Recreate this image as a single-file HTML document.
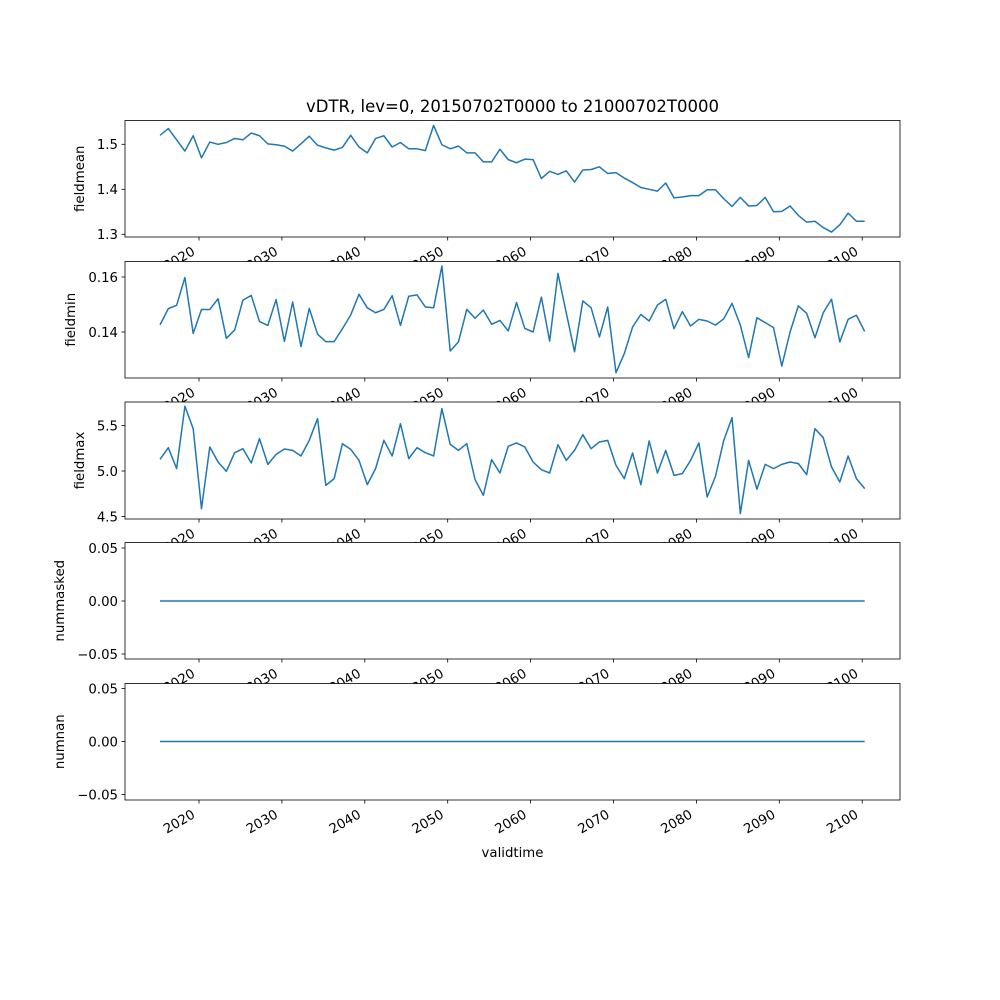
<!DOCTYPE html>
<html><head><meta charset="utf-8"><style>
html,body{margin:0;padding:0;background:#fff;}
svg{display:block;font-family:"DejaVu Sans","Liberation Sans",sans-serif;}
</style></head><body>
<svg id="chart" width="1000" height="1000" viewBox="0 0 1000 1000" xmlns="http://www.w3.org/2000/svg">
<rect width="1000" height="1000" fill="#fff"/>
<text x="512.5" y="112" text-anchor="middle" font-size="16.5" fill="#000">vDTR, lev=0, 20150702T0000 to 21000702T0000</text>
<text x="512.5" y="857" text-anchor="middle" font-size="13.3" fill="#000">validtime</text>
</svg>
<script>
const years = [];
for (let i = 0; i < 86; i++) years.push(2015.3 + i);
const xTicks = [2020, 2030, 2040, 2050, 2060, 2070, 2080, 2090, 2100];
const fieldmean = [1.520,1.535,1.510,1.485,1.519,1.470,1.505,1.500,1.504,1.513,1.510,1.525,1.519,1.501,1.499,1.496,1.485,1.501,1.518,1.498,1.492,1.487,1.493,1.520,1.494,1.481,1.513,1.519,1.494,1.504,1.490,1.490,1.486,1.542,1.499,1.490,1.496,1.481,1.481,1.461,1.461,1.489,1.466,
1.459,1.467,1.466,1.424,1.440,1.433,1.441,1.416,1.443,1.444,1.450,1.435,1.437,1.425,1.415,1.404,1.400,1.396,1.414,1.381,1.383,1.386,1.386,1.399,1.399,1.379,1.362,1.382,1.363,1.364,1.382,1.350,1.351,1.363,1.342,1.327,1.329,1.315,1.305,1.321,1.347,1.329,1.329];
const fieldmin = [0.1426,0.1485,0.1497,0.1598,0.1395,0.1482,0.1482,0.1521,0.1377,0.1407,0.1516,0.1533,0.1438,0.1424,0.1518,0.1366,0.1509,0.1347,0.1486,0.1392,0.1365,0.1365,0.1412,0.1462,0.1537,0.1488,0.1470,0.1482,0.1532,0.1424,0.1530,0.1535,0.1491,0.1488,0.1640,0.1331,0.1364,0.1482,0.1450,0.1480,0.1428,0.1442,0.1404,
0.1507,0.1413,0.1400,0.1527,0.1367,0.1613,0.1470,0.1328,0.1513,0.1488,0.1382,0.1491,0.1252,0.1321,0.1418,0.1464,0.1440,0.1498,0.1519,0.1412,0.1474,0.1422,0.1446,0.1440,0.1425,0.1448,0.1504,0.1425,0.1307,0.1452,0.1434,0.1416,0.1276,0.1400,0.1495,0.1468,0.1379,0.1470,0.1519,0.1364,0.1446,0.1461,0.1402];
const fieldmax = [5.128,5.256,5.026,5.711,5.465,4.586,5.264,5.099,4.996,5.201,5.245,5.088,5.355,5.073,5.183,5.242,5.227,5.165,5.337,5.575,4.842,4.916,5.300,5.238,5.117,4.850,5.026,5.337,5.165,5.520,5.136,5.256,5.201,5.165,5.685,5.293,5.227,5.300,4.905,4.733,5.125,4.978,5.271,
5.308,5.264,5.099,5.015,4.978,5.289,5.117,5.227,5.399,5.245,5.319,5.337,5.062,4.916,5.198,4.850,5.330,4.978,5.227,4.952,4.971,5.117,5.308,4.714,4.941,5.337,5.586,4.531,5.117,4.799,5.073,5.026,5.073,5.099,5.081,4.960,5.465,5.366,5.044,4.879,5.165,4.916,4.806];
const nummasked = new Array(86).fill(0);
const numnan = new Array(86).fill(0);
const meanTicks = [1.3, 1.4, 1.5];
const minTicks = [0.14, 0.16];
const maxTicks = [4.5, 5.0, 5.5];
const zeroTicks = [-0.05, 0.00, 0.05];

const NS = "http://www.w3.org/2000/svg";
const svg = document.getElementById("chart");
const L = 125, R = 900;
const xScale = y => 199 + (y - 2020) * 8.29;

function mk(tag, attrs) {
  const e = document.createElementNS(NS, tag);
  for (const k in attrs) e.setAttribute(k, attrs[k]);
  svg.appendChild(e);
  return e;
}

const panels = [
  {name: "fieldmean", top: 120.5, bot: 237, y0: 1.5, py0: 144.3, ppu: 450, data: fieldmean, ticks: meanTicks, dec: 1, lx: 84},
  {name: "fieldmin", top: 261.5, bot: 378, y0: 0.14, py0: 332, ppu: 2750, data: fieldmin, ticks: minTicks, dec: 2, lx: 75},
  {name: "fieldmax", top: 402, bot: 519, y0: 5.0, py0: 471, ppu: 91, data: fieldmax, ticks: maxTicks, dec: 1, lx: 84},
  {name: "nummasked", top: 542.5, bot: 659, y0: 0, py0: 601, ppu: 1060, data: nummasked, ticks: zeroTicks, dec: 2, lx: 64},
  {name: "numnan", top: 683.5, bot: 800, y0: 0, py0: 741.5, ppu: 1060, data: numnan, ticks: zeroTicks, dec: 2, lx: 64}
];

panels.forEach((p, pi) => {
  const ys = v => p.py0 - (v - p.y0) * p.ppu;
  const bg = mk("rect", {x: L, y: p.top, width: R - L, height: p.bot - p.top, fill: "#fff"});
  
  
  let d = "";
  p.data.forEach((v, i) => { d += (i ? "L" : "M") + xScale(years[i]).toFixed(2) + "," + ys(v).toFixed(2); });
  const line = mk("path", {d: d, fill: "none", stroke: "#1f77b4", "stroke-width": 1.5, "stroke-linejoin": "round"});
  
  
  const frame = mk("rect", {x: L, y: p.top, width: R - L, height: p.bot - p.top, fill: "none", stroke: "#000", "stroke-width": 0.8});
  
  
  p.ticks.forEach(t => {
    const y = ys(t);
    const tk = mk("line", {x1: L - 3.5, x2: L, y1: y, y2: y, stroke: "#000", "stroke-width": 0.8});
    
    
    const lab = mk("text", {x: L - 7, y: y + 4.8, "text-anchor": "end", "font-size": 13.3, fill: "#000"});
    lab.textContent = (t < 0 ? "\u2212" + Math.abs(t).toFixed(p.dec) : t.toFixed(p.dec));
    
    
  });
  const yl = mk("text", {x: p.lx, y: (p.top + p.bot) / 2, "text-anchor": "middle", "font-size": 13.3, fill: "#000", transform: "rotate(-90 " + p.lx + " " + (p.top + p.bot) / 2 + ")"});
  yl.textContent = p.name;
  
  
  xTicks.forEach(t => {
    const x = xScale(t);
    const tk = mk("line", {x1: x, x2: x, y1: p.bot, y2: p.bot + 3.5, stroke: "#000", "stroke-width": 0.8});
    
    
    const ax = x - 3, ay = p.bot + 17;
    const lab = mk("text", {x: ax, y: ay, "text-anchor": "end", "font-size": 13.3, fill: "#000", transform: "rotate(-30 " + ax + " " + ay + ")"});
    lab.textContent = String(t);
    
    
  });
});
</script>
</body></html>
